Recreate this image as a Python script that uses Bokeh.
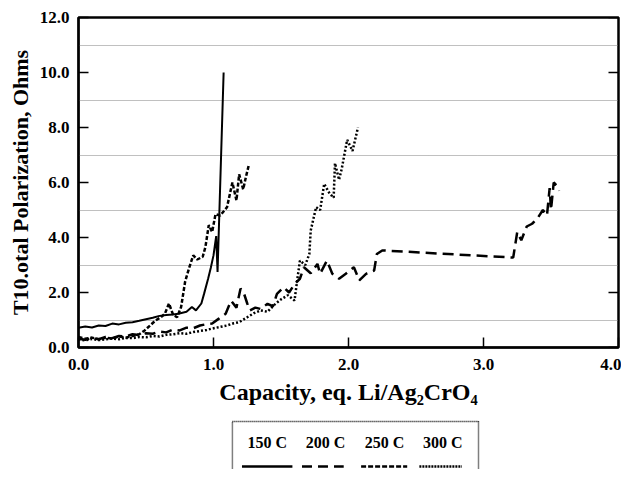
from bokeh.plotting import figure
from bokeh.models import Range1d, FixedTicker, PrintfTickFormatter
from bokeh.layouts import column
from bokeh.embed import file_html
from bokeh.resources import INLINE
from bokeh.core.properties import value

# ---------------- data ----------------
series_names = ["150 C", "200 C", "250 C", "300 C"]

cap_150 = [0.00, 0.05, 0.10, 0.15, 0.20, 0.25, 0.30, 0.35, 0.40, 0.45, 0.50, 0.55, 0.60,
           0.65, 0.70, 0.74, 0.80, 0.84, 0.87, 0.91, 0.93, 0.96, 0.98, 1.00, 1.01, 1.02,
           1.03, 1.075]
pol_150 = [0.72, 0.76, 0.73, 0.80, 0.78, 0.87, 0.84, 0.90, 0.92, 0.97, 1.03, 1.08, 1.15,
           1.18, 1.20, 1.23, 1.30, 1.47, 1.35, 1.60, 1.95, 2.50, 2.90, 3.35, 3.70, 4.05,
           2.75, 10.0]

cap_200 = [0.00, 0.05, 0.10, 0.15, 0.20, 0.25, 0.30, 0.35, 0.40, 0.45, 0.50, 0.55, 0.60,
           0.65, 0.70, 0.75, 0.80, 0.85, 0.90, 0.95, 0.99, 1.04, 1.09, 1.13, 1.17, 1.20,
           1.22, 1.25, 1.27, 1.31, 1.35, 1.40, 1.44, 1.47, 1.52, 1.56, 1.60, 1.64, 1.67,
           1.72, 1.77, 1.79, 1.84, 1.88, 1.93, 1.98, 2.04, 2.08, 2.13, 2.19, 2.21, 2.25,
           3.22, 3.25, 3.28, 3.32, 3.36, 3.40, 3.44, 3.47, 3.49, 3.50, 3.52, 3.54, 3.56]
pol_200 = [0.32, 0.28, 0.35, 0.30, 0.38, 0.34, 0.42, 0.40, 0.48, 0.45, 0.52, 0.50, 0.58,
           0.55, 0.65, 0.62, 0.72, 0.70, 0.80, 0.85, 0.87, 1.05, 1.23, 1.70, 1.45, 2.14,
           2.05, 1.60, 1.35, 1.45, 1.40, 1.59, 1.50, 1.95, 2.19, 2.00, 2.30, 2.50, 2.92,
           2.70, 3.04, 2.68, 3.16, 2.68, 2.50, 2.68, 2.92, 2.44, 2.68, 2.80, 3.40, 3.53,
           3.27, 4.20, 3.90, 4.40, 4.50, 4.70, 5.00, 4.80, 5.80, 5.00, 6.00, 5.90, 5.70]

cap_250 = [0.00, 0.05, 0.10, 0.15, 0.20, 0.25, 0.30, 0.35, 0.40, 0.45, 0.49, 0.53, 0.57,
           0.61, 0.64, 0.67, 0.70, 0.73, 0.76, 0.79, 0.82, 0.85, 0.88, 0.92, 0.94, 0.965,
           0.99, 1.015, 1.05, 1.10, 1.14, 1.17, 1.19, 1.22, 1.24, 1.26]
pol_250 = [0.38, 0.32, 0.36, 0.30, 0.35, 0.33, 0.40, 0.36, 0.42, 0.48, 0.62, 0.80, 0.98,
           1.10, 1.23, 1.60, 1.20, 1.10, 1.47, 2.40, 2.90, 3.35, 3.20, 3.30, 3.65, 4.45,
           4.20, 4.85, 4.80, 5.10, 6.00, 5.35, 6.30, 5.75, 6.20, 6.60]

cap_300 = [0.00, 0.05, 0.10, 0.15, 0.20, 0.25, 0.30, 0.35, 0.40, 0.45, 0.50, 0.55, 0.60,
           0.65, 0.70, 0.75, 0.80, 0.85, 0.90, 0.95, 0.99, 1.05, 1.10, 1.15, 1.19, 1.25,
           1.30, 1.35, 1.40, 1.45, 1.50, 1.55, 1.60, 1.62, 1.64, 1.68, 1.71, 1.72, 1.76,
           1.79, 1.82, 1.86, 1.89, 1.90, 1.93, 1.95, 1.99, 2.03, 2.07]
pol_300 = [0.30, 0.26, 0.31, 0.27, 0.30, 0.33, 0.30, 0.35, 0.34, 0.38, 0.37, 0.42, 0.40,
           0.46, 0.48, 0.52, 0.50, 0.56, 0.60, 0.64, 0.69, 0.75, 0.80, 0.88, 0.92, 1.10,
           1.25, 1.35, 1.30, 1.55, 1.75, 1.90, 1.71, 2.44, 3.16, 3.00, 3.40, 4.25, 5.10,
           5.00, 5.95, 5.60, 5.45, 6.70, 6.10, 6.50, 7.55, 7.15, 8.00]

x_ticks = [0, 1, 2, 3, 4]
y_ticks = [0, 2, 4, 6, 8, 10, 12]
grid_levels = [1, 3, 5, 7, 9, 11]

FONT = "Liberation Serif"
dashes = ["solid", "11 6", "4 2", "2 2"]
legend_dashes = ["solid", "10 6", "5 2", "2 1"]

X_MAX, Y_MAX = 4, 12
FRAME_W = 540  # px

# ---------------- main plot ----------------
p = figure(width=621, height=410, x_range=Range1d(0, X_MAX), y_range=Range1d(0, Y_MAX),
           output_backend="svg", toolbar_location=None,
           min_border_left=78, min_border_right=3, min_border_top=17, min_border_bottom=63)

p.outline_line_color = "black"
p.outline_line_width = 2.5
p.background_fill_color = "white"
p.border_fill_color = "white"

p.xgrid.visible = False
p.ygrid.ticker = FixedTicker(ticks=grid_levels)
p.ygrid.grid_line_color = "#808080"
p.ygrid.grid_line_dash = "1 1"
p.ygrid.grid_line_width = 1

for ax in (p.xaxis[0], p.yaxis[0]):
    ax.axis_line_width = 2
    ax.major_tick_in = 10
    ax.major_tick_out = 0
    ax.minor_tick_in = 0
    ax.minor_tick_out = 0
    ax.major_tick_line_width = 1.5
    ax.formatter = PrintfTickFormatter(format="%.1f")
    ax.major_label_text_font = FONT
    ax.major_label_text_font_style = "bold"
    ax.major_label_text_font_size = "17px"
    ax.major_label_text_color = "black"
    ax.axis_label_text_font = FONT
    ax.axis_label_text_font_style = "bold"
    ax.axis_label_text_color = "black"

p.xaxis[0].ticker = FixedTicker(ticks=x_ticks)
p.yaxis[0].ticker = FixedTicker(ticks=y_ticks)
p.xaxis[0].major_label_standoff = 11
p.yaxis[0].major_label_standoff = 9
p.xaxis[0].axis_label = "Capacity, eq. Li/Ag\u2082CrO\u2084"
p.xaxis[0].axis_label_text_font_size = "24px"
p.xaxis[0].axis_label_standoff = 6
p.yaxis[0].axis_label = "T10.otal Polarization, Ohms"
p.yaxis[0].axis_label_text_font_size = "22px"
p.yaxis[0].axis_label_standoff = 4

# inward ticks on the right frame edge
tick_len = X_MAX * 10 / FRAME_W
p.segment(x0=[X_MAX - tick_len] * len(y_ticks), x1=[X_MAX] * len(y_ticks),
          y0=y_ticks, y1=y_ticks, line_color="black", line_width=1.5)

series = [(cap_150, pol_150), (cap_200, pol_200), (cap_250, pol_250), (cap_300, pol_300)]
widths = [2, 2.5, 2.5, 2.5]
for (xs, ys), dash, w in zip(series, dashes, widths):
    p.line(xs, ys, line_color="black", line_width=w, line_dash=dash)

# ---------------- legend strip ----------------
LG_H = 59
lg = figure(width=621, height=LG_H, x_range=Range1d(0, 621), y_range=Range1d(LG_H, 0),
            output_backend="svg", toolbar_location=None, min_border=0,
            x_axis_type=None, y_axis_type=None)
lg.grid.visible = False
lg.outline_line_color = None

box_l, box_r, box_t = 177, 460, 11
lg.line([box_l, box_l, box_r, box_r], [LG_H, box_t, box_t, LG_H], line_color="black",
        line_width=1.5, line_dash="1 1")

label_x = [217, 284, 352, 419]
seg_x0 = [188, 257, 325, 392]
seg_x1 = [246, 305, 378, 441]
lg.text(x=label_x, y=[32] * 4, text=series_names, text_align="center",
        text_baseline="middle", text_font=value(FONT), text_font_style="bold",
        text_font_size="16px", text_color="black")
for x0, x1, dash in zip(seg_x0, seg_x1, legend_dashes):
    lg.line([x0, x1], [56, 56], line_color="black", line_width=2.5, line_dash=dash)

layout = column(p, lg, spacing=0)
open("out.html", "w").write(file_html(layout, INLINE))
